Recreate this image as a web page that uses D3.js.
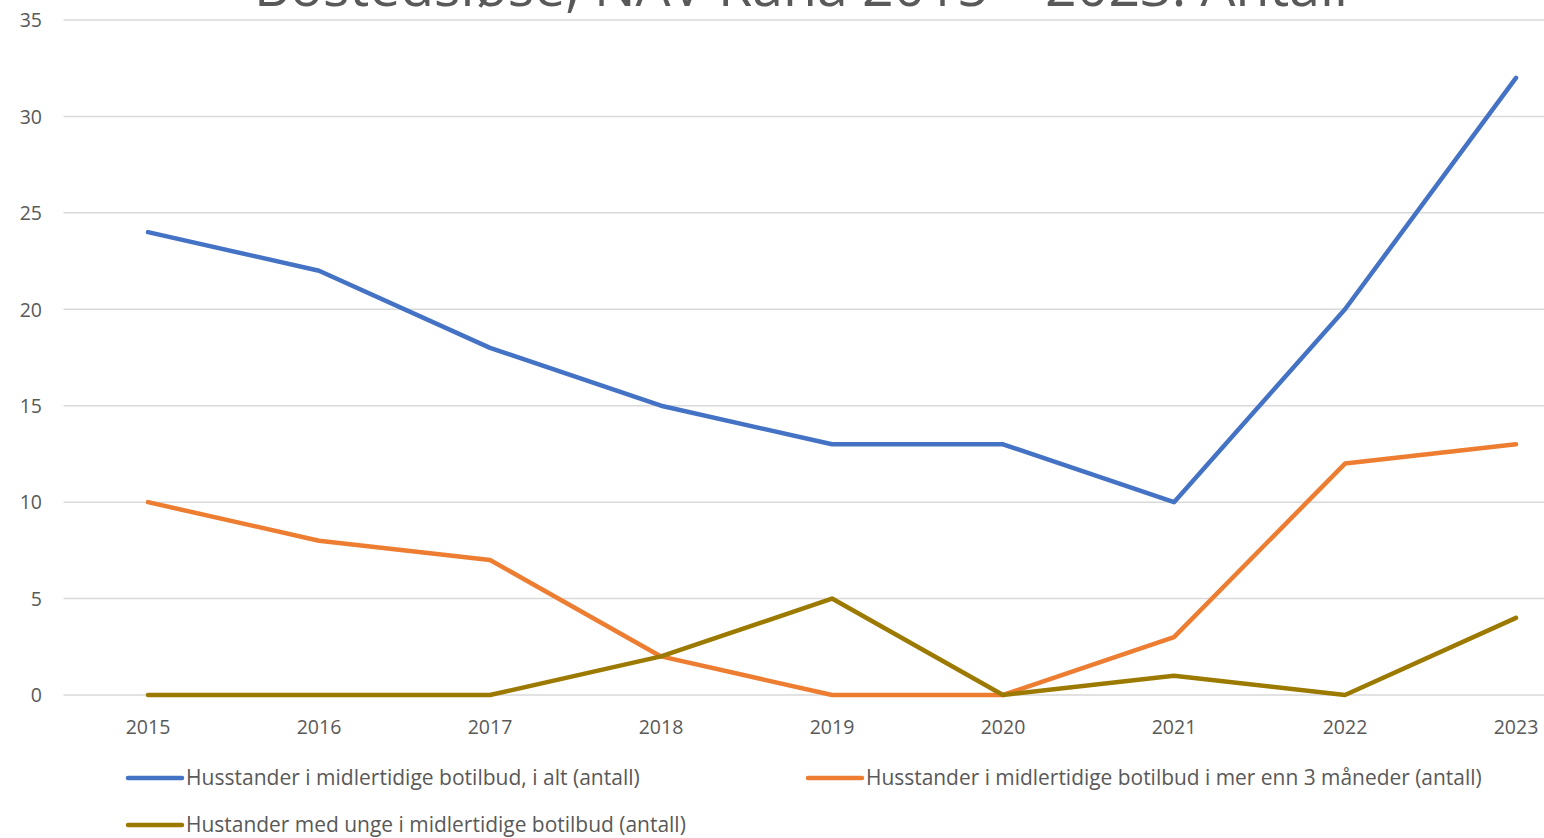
<!DOCTYPE html>
<html>
<head>
<meta charset="utf-8">
<script src="https://cdn.jsdelivr.net/npm/d3@7"></script>
<style>
  html, body { margin: 0; padding: 0; background: #fff; }
  svg { display: block; font-family: "Open Sans", "Noto Sans", sans-serif; }
</style>
</head>
<body>
<svg id="chart" width="1544" height="838"></svg>
<script>
// Categories (years) and series
const years = ["2015", "2016", "2017", "2018", "2019", "2020", "2021", "2022", "2023"];
const totalHouseholds = [24, 22, 18, 15, 13, 13, 10, 20, 32];
const over3Months = [10, 8, 7, 2, 0, 0, 3, 12, 13];
const withYoung = [0, 0, 0, 2, 5, 0, 1, 0, 4];
const seriesNames = [
  "Husstander i midlertidige botilbud, i alt (antall)",
  "Husstander i midlertidige botilbud i mer enn 3 måneder (antall)",
  "Hustander med unge i midlertidige botilbud (antall)"
];
const seriesColors = ["#4472C4", "#ED7D31", "#9C7A00"];
const yTicks = [0, 5, 10, 15, 20, 25, 30, 35];
const titleText = "Bostedsløse, NAV Rana 2015 – 2023. Antall";

const series = [totalHouseholds, over3Months, withYoung].map((vals, i) => ({
  name: seriesNames[i], color: seriesColors[i], values: vals
}));

const svg = d3.select("#chart");
const textColor = "#595959";

// Plot area spans past the right edge of the canvas
const plotLeft = 62.5, plotRight = 1601.5, plotTop = 20, plotBottom = 695;

const x = d3.scaleBand().domain(years).range([plotLeft, plotRight]);
const y = d3.scaleLinear().domain([0, 35]).range([plotBottom, plotTop]);

// Horizontal gridlines
svg.append("g").selectAll("line").data(yTicks).join("line")
  .attr("x1", plotLeft + 1).attr("x2", plotRight)
  .attr("y1", d => y(d)).attr("y2", d => y(d))
  .attr("stroke", "#d9d9d9").attr("stroke-width", 1.5);

// Y axis labels
const yAxis = d3.axisLeft(y).tickValues(yTicks).tickSize(0).tickPadding(0);
const gy = svg.append("g").attr("transform", "translate(42,0)").call(yAxis);
gy.select(".domain").remove();
gy.selectAll("text").attr("fill", textColor).attr("font-size", 19.5)
  .attr("font-family", "'Open Sans', sans-serif").attr("dy", "0.35em");

// X axis labels
const xAxis = d3.axisBottom(x).tickSize(0).tickPadding(0);
const gx = svg.append("g").attr("transform", `translate(0,${plotBottom + 32})`).call(xAxis);
gx.select(".domain").remove();
gx.selectAll("text").attr("fill", textColor).attr("font-size", 19.5)
  .attr("font-family", "'Open Sans', sans-serif").attr("dy", "0.35em");

// Lines
const line = d3.line()
  .x((d, i) => x(years[i]) + x.bandwidth() / 2)
  .y(d => y(d));

svg.append("g").selectAll("path").data(series).join("path")
  .attr("d", d => line(d.values))
  .attr("fill", "none")
  .attr("stroke", d => d.color)
  .attr("stroke-width", 4.5)
  .attr("stroke-linejoin", "round")
  .attr("stroke-linecap", "round");

// Fit a text element to a target width by adjusting its font size
function fitWidth(sel, target) {
  const node = sel.node();
  const fs = parseFloat(sel.attr("font-size"));
  const w = node.getComputedTextLength();
  sel.attr("font-size", (fs * target / w).toFixed(2));
}

// Legend
const legendItems = [
  { s: series[0], lx: 128, ly: 778, tw: 454 },
  { s: series[1], lx: 808, ly: 778, tw: 616 },
  { s: series[2], lx: 128, ly: 825, tw: 500 }
];
const lg = svg.append("g");
legendItems.forEach(it => {
  lg.append("line")
    .attr("x1", it.lx).attr("x2", it.lx + 54)
    .attr("y1", it.ly).attr("y2", it.ly)
    .attr("stroke", it.s.color).attr("stroke-width", 4.5)
    .attr("stroke-linecap", "round");
  const t = lg.append("text")
    .attr("x", it.lx + 58).attr("y", it.ly).attr("dy", "0.35em")
    .attr("fill", textColor).attr("font-size", 19)
    .text(it.s.name);
  fitWidth(t, it.tw);
});

// Title (partly above the top edge)
const title = svg.append("text")
  .attr("x", 801).attr("y", 6)
  .attr("text-anchor", "middle")
  .attr("fill", textColor)
  .attr("font-size", 48)
  .attr("font-weight", 400)
  .attr("font-family", "'Open Sans', sans-serif")
  .text(titleText);
fitWidth(title, 1094);
</script>
</body>
</html>
